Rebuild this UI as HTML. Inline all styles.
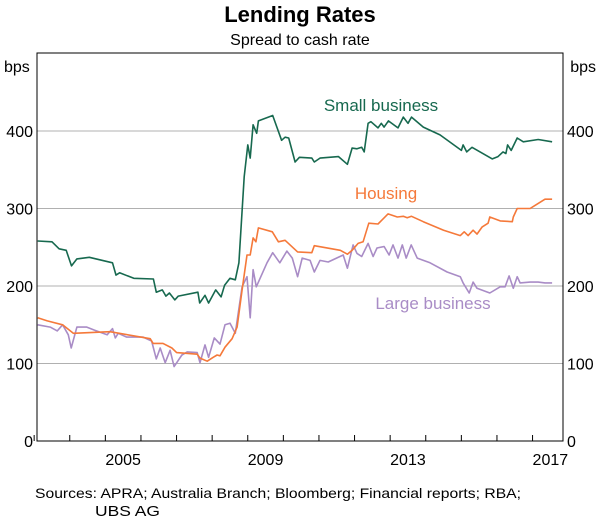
<!DOCTYPE html>
<html><head><meta charset="utf-8"><style>
body{margin:0;background:#fff;font-family:"Liberation Sans",Arial,sans-serif}
</style></head><body>
<svg width="600" height="518" xmlns="http://www.w3.org/2000/svg" font-family="Liberation Sans, Arial, sans-serif">
<text x="300" y="22" text-anchor="middle" font-size="22" font-weight="bold">Lending Rates</text>
<text x="300" y="45" text-anchor="middle" font-size="16">Spread to cash rate</text>
<text x="4" y="72" font-size="16">bps</text>
<text x="596" y="72" font-size="16" text-anchor="end">bps</text>
<g id="grid"></g><g id="series"></g><g id="axes"></g>
<text x="35" y="498" font-size="14" textLength="486" lengthAdjust="spacingAndGlyphs">Sources: APRA; Australia Branch; Bloomberg; Financial reports; RBA;</text>
<text x="95" y="516" font-size="15" textLength="65" lengthAdjust="spacingAndGlyphs">UBS AG</text>
</svg>
<script>
const yTicks=[0,100,200,300,400];
const xTickYears=[2003,2004,2005,2006,2007,2008,2009,2010,2011,2012,2013,2014,2015,2016,2017];
const xLabels=[2005,2009,2013,2017];
const smallT=[2002.6,2003.0,2003.2,2003.4,2003.55,2003.7,2004.05,2004.7,2004.8,2004.9,2005.3,2005.85,2005.93,2006.1,2006.2,2006.3,2006.45,2006.55,2007.1,2007.15,2007.3,2007.4,2007.6,2007.75,2007.85,2008.0,2008.15,2008.25,2008.4,2008.5,2008.57,2008.65,2008.75,2008.8,2009.2,2009.45,2009.55,2009.65,2009.83,2009.95,2010.3,2010.37,2010.53,2011.05,2011.3,2011.43,2011.57,2011.7,2011.77,2011.88,2011.96,2012.16,2012.25,2012.33,2012.45,2012.72,2012.87,2013.0,2013.1,2013.43,2013.9,2014.5,2014.55,2014.65,2014.8,2015.37,2015.53,2015.67,2015.75,2015.8,2015.9,2016.07,2016.24,2016.66,2017.05];
const smallV=[258,257,248,246,226,235,237,230,214,217,210,209,192,195,187,191,182,187,192,178,188,178,195,186,201,210,208,230,341,382,365,408,397,413,420,388,392,391,360,366,365,360,365,367,357,378,377,379,373,410,412,404,410,405,413,404,418,410,418,405,395,375,382,373,379,364,367,373,371,382,375,391,386,389,386];
const houseT=[2002.6,2002.87,2003.3,2003.6,2004.63,2005.76,2005.84,2006.12,2006.37,2006.5,2007.08,2007.16,2007.36,2007.53,2007.64,2007.72,2007.86,2008.06,2008.2,2008.34,2008.48,2008.57,2008.65,2008.73,2008.8,2009.19,2009.36,2009.55,2009.9,2010.3,2010.37,2011.1,2011.3,2011.43,2011.6,2011.74,2011.9,2012.16,2012.44,2012.7,2012.87,2012.98,2013.1,2013.43,2014.0,2014.47,2014.58,2014.69,2014.83,2014.94,2015.08,2015.25,2015.3,2015.59,2015.93,2015.96,2016.07,2016.43,2016.57,2016.85,2017.05];
const houseV=[159,155,150,139,141,132,126,126,120,114,112,107,103,108,111,110,121,132,147,195,240,240,262,257,275,270,257,259,244,243,252,246,241,246,255,257,281,280,293,289,290,288,290,283,272,265,270,265,272,267,276,281,289,284,283,289,300,300,304,312,312];
const largeT=[2002.6,2002.95,2003.15,2003.3,2003.46,2003.54,2003.7,2003.98,2004.2,2004.55,2004.7,2004.78,2004.86,2005.1,2005.56,2005.8,2005.93,2006.04,2006.18,2006.32,2006.43,2006.65,2006.8,2007.08,2007.16,2007.3,2007.4,2007.56,2007.72,2007.86,2008.0,2008.15,2008.34,2008.48,2008.57,2008.65,2008.74,2009.04,2009.2,2009.4,2009.6,2009.75,2009.9,2010.03,2010.25,2010.37,2010.53,2010.76,2011.18,2011.3,2011.46,2011.57,2011.7,2011.88,2012.02,2012.13,2012.33,2012.47,2012.58,2012.72,2012.84,2012.95,2013.09,2013.26,2013.62,2014.1,2014.47,2014.55,2014.72,2014.83,2014.94,2015.3,2015.59,2015.73,2015.84,2015.96,2016.07,2016.15,2016.43,2016.66,2016.85,2017.05];
const largeV=[150,147,142,150,137,120,147,147,143,137,145,133,139,134,134,129,106,120,101,117,96,111,115,114,101,124,108,133,125,150,152,139,199,212,159,221,199,230,243,230,245,236,212,236,233,218,233,231,240,223,253,242,238,255,238,249,251,240,253,236,253,236,253,236,230,218,212,204,191,205,197,191,199,199,213,197,212,204,205,205,204,204];

const L=37,R=563,T=53,B=441;
const x=t=>L+(t-2002.58)*35.6;
const y=v=>B-v*0.775;
const NS="http://www.w3.org/2000/svg";
function mk(tag,attrs,parent){const e=document.createElementNS(NS,tag);for(const k in attrs)e.setAttribute(k,attrs[k]);parent.appendChild(e);return e;}
const grid=document.getElementById('grid'),ser=document.getElementById('series'),ax=document.getElementById('axes');
yTicks.forEach(v=>{
  if(v>0){const g=mk('line',{x1:L,x2:R,y1:y(v),y2:y(v),stroke:'#b0b0b0','stroke-width':1},grid);
  
  }
  const a=mk('text',{x:L-4,y:y(v)+6,'text-anchor':'end','font-size':16},ax);a.textContent=v;
  
  
  const b=mk('text',{x:R+4,y:y(v)+6,'font-size':16},ax);b.textContent=v;
  
  
});
xTickYears.forEach(yr=>{
  const t=mk('line',{x1:x(yr-0.5),x2:x(yr-0.5),y1:B,y2:B-6,stroke:'#000','stroke-width':1},ax);
  
  
});
xLabels.forEach(yr=>{
  const t=mk('text',{x:x(yr),y:B+24,'text-anchor':'middle','font-size':16},ax);t.textContent=yr;
  
  
});
const fr=mk('rect',{x:L,y:T,width:R-L,height:B-T,fill:'none',stroke:'#000','stroke-width':1},ax);


function line(ts,vs,color,name){
  const d=ts.map((t,i)=>(i?'L':'M')+x(t).toFixed(1)+','+y(vs[i]).toFixed(1)).join('');
  const p=mk('path',{d:d,fill:'none',stroke:color,'stroke-width':1.6,'stroke-linejoin':'round'},ser);
  
  
}
line(largeT,largeV,'#a98cc6','large-business-line');
line(houseT,houseV,'#f5793a','housing-line');
line(smallT,smallV,'#17694f','small-business-line');
function lab(txt,xx,yy,c,name){const t=mk('text',{x:xx,y:yy,'text-anchor':'middle','font-size':17,fill:c},ax);t.textContent=txt;
  
  }
lab('Small business',381,111,'#17694f','small-business-label');
lab('Housing',386,199,'#f5793a','housing-label');
lab('Large business',433,309,'#a98cc6','large-business-label');
</script>
</body></html>
